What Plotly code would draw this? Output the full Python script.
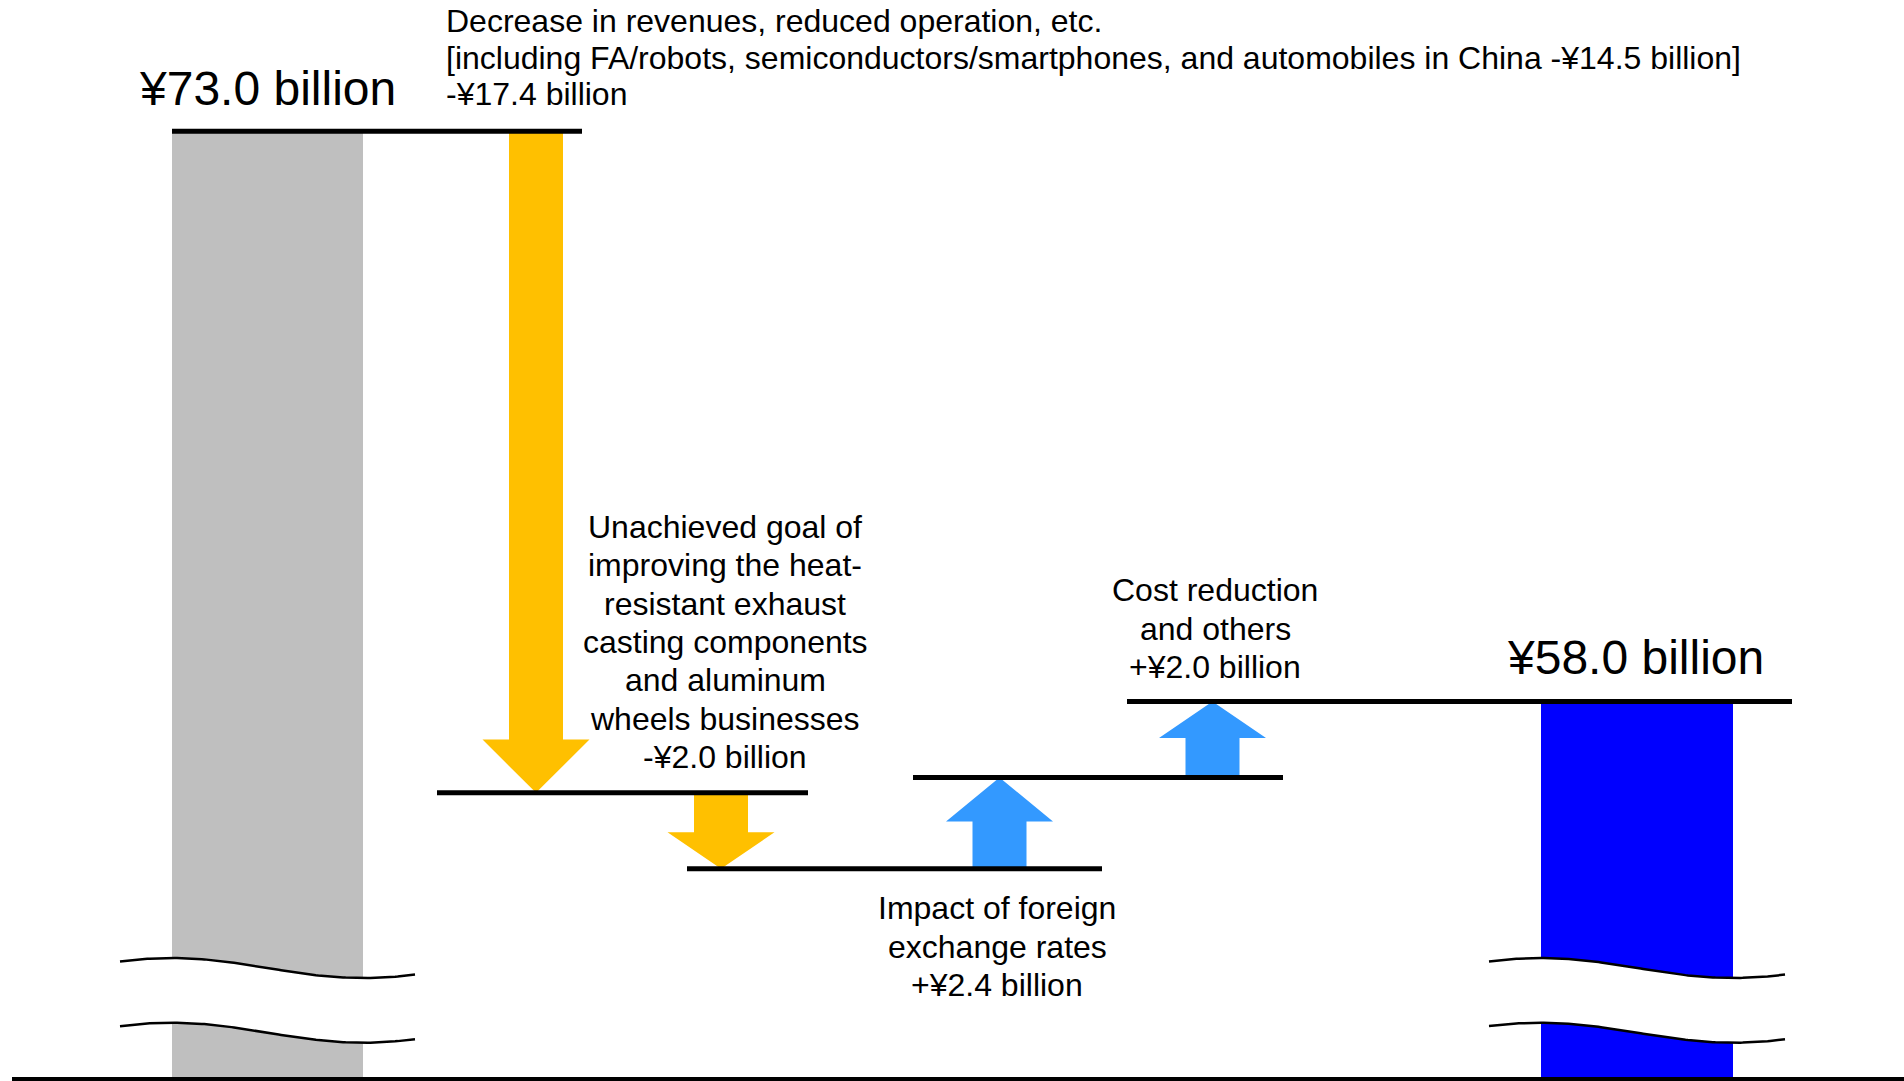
import numpy as np
import plotly.graph_objects as go

# ---------------- data ----------------
start_value = 73.0          # ¥ billion, starting operating income
end_value = 58.0            # ¥ billion, resulting operating income
step_values = [-17.4, -2.0, 2.4, 2.0]
step_texts = [
    ["Decrease in revenues, reduced operation, etc.",
     "[including FA/robots, semiconductors/smartphones, and automobiles in China -¥14.5 billion]"],
    ["Unachieved goal of", "improving the heat-", "resistant exhaust",
     "casting components", "and aluminum", "wheels businesses"],
    ["Impact of foreign", "exchange rates"],
    ["Cost reduction", "and others"],
]

# ---------------- layout constants (pixels of the 1904x1081 page) ----------------
W, H = 1904, 1081
Y_TOP, Y_BOT = 76.45, 48.02


def y_of_px(p):
    return Y_TOP - p * (Y_TOP - Y_BOT) / H


def paper_y(p):
    return 1 - p / H


FONT = "Arial, 'Liberation Sans', sans-serif"
GREY, ORANGE, LBLUE, BLUE = "#BFBFBF", "#FFC000", "#3399FF", "#0000FF"

BAR_X = [267.5, 1637]
BAR_W = [191, 192]
ARROW_X = [536, 721, 999.5, 1212.5]
SHAFT_HALF, HEAD_HALF = 27, 53.5
LINE_SPANS = [(172, 582), (437, 808), (687, 1102), (913, 1283), (1127, 1792)]

# text placement: (x px, anchor, first cap-centre y px, line spacing px)
STEP_TEXT_POS = [
    (445, "left", 21, 36.5),
    (725, "center", 527, 38.33),
    (997, "center", 908, 38.5),
    (1215, "center", 590, 38.5),
]
LABEL_POS = [(267.5, 89), (1635, 657)]
BIG_FONT, SMALL_FONT = 48, 32

levels = [start_value]
for d in step_values:
    levels.append(round(levels[-1] + d, 1))

fig = go.Figure()

# total bars
fig.add_trace(go.Bar(x=BAR_X, y=[start_value, end_value], width=BAR_W,
                     marker=dict(color=[GREY, BLUE], line=dict(width=0)),
                     hoverinfo="skip"))

# axis-break marks on both bars
for cx, w in zip(BAR_X, BAR_W):
    left = cx - w / 2
    xs = np.linspace(left - 52, left + w + 52, 120)
    top_px = 968 - 10 * np.cos(np.pi * (xs - left) / w)
    bot_px = top_px + 64.7
    fig.add_trace(go.Scatter(
        x=np.concatenate([xs, xs[::-1]]),
        y=np.concatenate([y_of_px(top_px), y_of_px(bot_px[::-1])]),
        fill="toself", fillcolor="white", mode="lines", line=dict(width=0),
        hoverinfo="skip"))
    for curve in (top_px, bot_px):
        fig.add_trace(go.Scatter(x=xs, y=y_of_px(curve), mode="lines",
                                 line=dict(color="black", width=2.5),
                                 hoverinfo="skip"))

# arrows
for i, d in enumerate(step_values):
    v0, v1 = levels[i], levels[i + 1]
    s = np.sign(d)
    h = min(1.4, 0.48 * abs(d))
    vb = v1 - s * h
    cx = ARROW_X[i]
    xs = [cx - SHAFT_HALF, cx + SHAFT_HALF, cx + SHAFT_HALF, cx + HEAD_HALF, cx,
          cx - HEAD_HALF, cx - SHAFT_HALF, cx - SHAFT_HALF]
    ys = [v0, v0, vb, vb, v1, vb, vb, v0]
    fig.add_trace(go.Scatter(x=xs, y=ys, fill="toself",
                             fillcolor=ORANGE if d < 0 else LBLUE,
                             mode="lines", line=dict(width=0), hoverinfo="skip"))

# level lines
for (x0, x1), v in zip(LINE_SPANS, levels):
    fig.add_trace(go.Scatter(x=[x0, x1], y=[v, v], mode="lines",
                             line=dict(color="black", width=5), hoverinfo="skip"))

annotations = []
# big totals
for (x, yp), v in zip(LABEL_POS, [start_value, end_value]):
    annotations.append(dict(x=x, xref="x", y=paper_y(yp), yref="paper",
                            text=f"¥{v:.1f} billion", showarrow=False,
                            xanchor="center", yanchor="middle",
                            font=dict(family=FONT, size=BIG_FONT, color="black")))

# step descriptions
for (x, anchor, y0, dy), lines, d in zip(STEP_TEXT_POS, step_texts, step_values):
    sign = "+" if d > 0 else "-"
    all_lines = lines + [f"{sign}¥{abs(d):.1f} billion"]
    for k, t in enumerate(all_lines):
        annotations.append(dict(x=x, xref="x", y=paper_y(y0 + k * dy), yref="paper",
                                text=t, showarrow=False, xanchor=anchor,
                                yanchor="middle", borderpad=0,
                                font=dict(family=FONT, size=SMALL_FONT, color="black")))

fig.update_layout(
    width=W, height=H,
    margin=dict(l=0, r=0, t=0, b=0),
    paper_bgcolor="white", plot_bgcolor="white",
    showlegend=False,
    xaxis=dict(range=[0, W], visible=False, fixedrange=True),
    yaxis=dict(range=[Y_BOT, Y_TOP], visible=False, fixedrange=True),
    annotations=annotations,
    shapes=[dict(type="line", xref="x", yref="paper", x0=12, x1=W,
                 y0=paper_y(1079), y1=paper_y(1079),
                 line=dict(color="black", width=4))],
)

fig.write_html("out.html", config={"displayModeBar": False})
